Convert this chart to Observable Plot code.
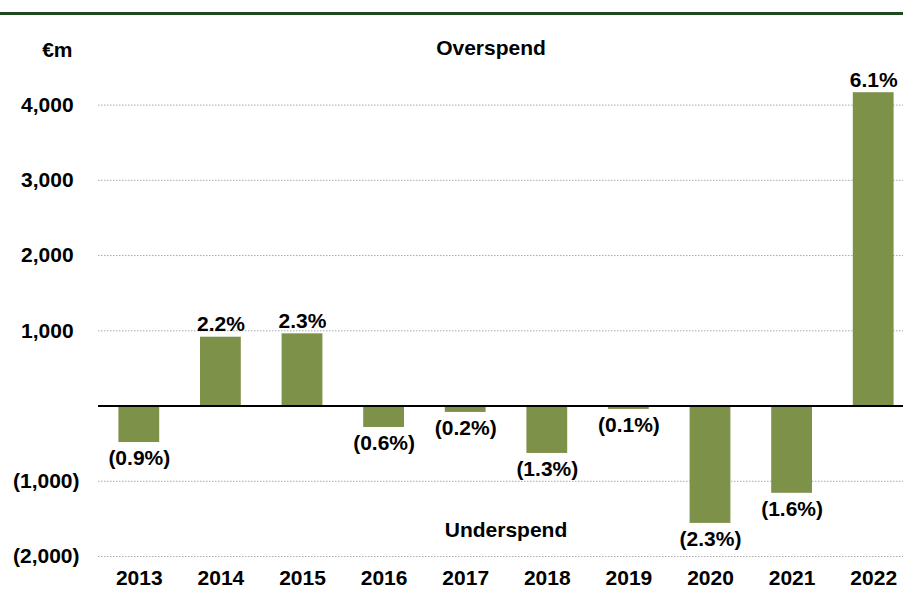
<!DOCTYPE html>
<html>
<head>
<meta charset="utf-8">
<script src="https://cdn.jsdelivr.net/npm/d3@7"></script>
<script src="https://cdn.jsdelivr.net/npm/@observablehq/plot@0.6"></script>
<style>
  html, body { margin: 0; padding: 0; background: #fff; }
  #wrap { position: relative; width: 903px; height: 590px; overflow: hidden; }
  #topline { position: absolute; left: 0; top: 12px; width: 903px; height: 3px; background: #1d4a21; }
  #chart { position: absolute; left: 0; top: 0; }
  svg text { font-family: "Liberation Sans", Arial, sans-serif; }
</style>
</head>
<body>
<div id="wrap"><div id="chart"></div><div id="topline"></div></div>
<script>
const years = ["2013","2014","2015","2016","2017","2018","2019","2020","2021","2022"];
const valuesEURm = [-485, 915, 960, -285, -85, -630, -45, -1560, -1160, 4165];
const pctLabels = [-0.9, 2.2, 2.3, -0.6, -0.2, -1.3, -0.1, -2.3, -1.6, 6.1];
const yTicks = [-2000, -1000, 1000, 2000, 3000, 4000];

const data = years.map((y, i) => ({year: y, value: valuesEURm[i], pct: pctLabels[i]}));
const fmtPct = p => p < 0 ? `(${Math.abs(p).toFixed(1)}%)` : `${p.toFixed(1)}%`;
const fmtTick = v => v < 0 ? `(${d3.format(",")(-v)})` : `${d3.format(",")(v)}\u2008`;

const font = 21;
const plot = Plot.plot({
  width: 903,
  height: 590,
  marginLeft: 98,
  marginRight: 0,
  marginTop: 67,
  marginBottom: 34,
  style: {fontFamily: "'Liberation Sans', Arial, sans-serif", fontSize: font + "px", fontWeight: "bold", color: "#000", background: "transparent"},
  x: {domain: years, range: [98, 914], paddingInner: 0.5, paddingOuter: 0.25, round: false, label: null},
  y: {domain: [-2000, 4500], label: null},
  marks: [
    Plot.ruleY(yTicks, {stroke: "#a9a9a9", strokeWidth: 1, strokeDasharray: "1.5,1.5"}),
    Plot.barY(data, {x: "year", y: "value", fill: "#7e9149"}),
    Plot.ruleY([0], {stroke: "#000", strokeWidth: 2}),
    Plot.text(data.filter(d => d.value >= 0), {x: "year", y: "value", text: d => fmtPct(d.pct), lineAnchor: "bottom", dy: -6, fontSize: font, fontWeight: "bold", fill: "#000"}),
    Plot.text(data.filter(d => d.value < 0), {x: "year", y: "value", text: d => fmtPct(d.pct), lineAnchor: "top", dy: 8, fontSize: font, fontWeight: "bold", fill: "#000"}),
    Plot.axisY({ticks: yTicks, tickFormat: fmtTick, tickSize: 0, tickPadding: 19, fontSize: font, fontWeight: "bold", label: null}),
    Plot.axisX({tickSize: 0, tickPadding: 14, fontSize: font, fontWeight: "bold", label: null}),
    Plot.text(["€m"], {frameAnchor: "top-left", dx: -26, dy: -17, textAnchor: "end", lineAnchor: "middle", fontSize: font, fontWeight: "bold"}),
    Plot.text(["Overspend"], {frameAnchor: "top", dx: -10, dy: -19, lineAnchor: "middle", fontSize: font, fontWeight: "bold"}),
    Plot.text(["Underspend"], {frameAnchor: "bottom", dx: 5, dy: -26, lineAnchor: "middle", fontSize: font, fontWeight: "bold"})
  ]
});
document.getElementById("chart").appendChild(plot);
</script>
</body>
</html>
